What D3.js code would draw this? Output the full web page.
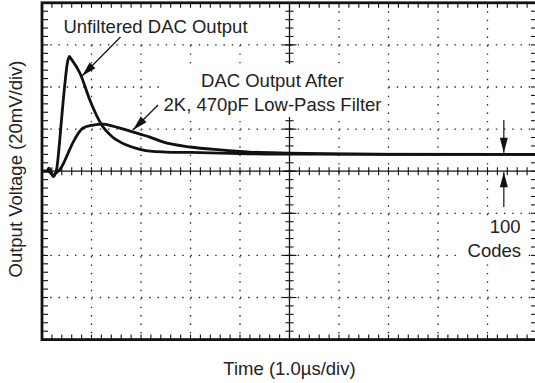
<!DOCTYPE html>
<html>
<head>
<meta charset="utf-8">
<script src="https://cdn.jsdelivr.net/npm/d3@7"></script>
<style>
  html, body { margin: 0; padding: 0; background: #fff; }
  svg { display: block; }
  text { font-family: "Liberation Sans", Arial, Helvetica, sans-serif; fill: #222; }
</style>
</head>
<body>
<svg id="chart" width="535" height="383"></svg>
<script>
// ---- data (time in µs, voltage in mV relative to centre line) ----
const unfilteredT = [0, 0.10, 0.14, 0.20, 0.23, 0.27, 0.30, 0.34, 0.40, 0.46, 0.51, 0.55, 0.60, 0.77, 0.97, 1.21, 1.43, 1.72, 1.98, 2.18, 2.5, 3.0, 3.8, 5.0, 10];
const unfilteredV = [0, 0, 1.5, -1.5, -2.6, -1.0, 1.5, 10, 26, 41, 51, 54.5, 53, 46.4, 33.6, 21.8, 16.1, 12.3, 10.4, 9.5, 9.1, 8.9, 8.5, 8.1, 8.0];
const filteredT = [0, 0.10, 0.16, 0.22, 0.30, 0.36, 0.44, 0.51, 0.63, 0.83, 1.03, 1.23, 1.43, 1.72, 1.98, 2.18, 2.44, 2.99, 3.6, 4.2, 5.0, 6.0, 7.0, 10];
const filteredV = [0, 0, -0.5, -1.9, -0.5, 0.8, 4, 7.7, 13.8, 20.5, 21.9, 22.4, 21.4, 19.5, 17.6, 16.2, 13.9, 11.5, 10.1, 9.1, 8.6, 8.2, 8.0, 8.0];
const xDivisions = d3.range(0, 11, 1);        // µs, 1.0 µs/div
const yDivisions = d3.range(-80, 81, 20);     // mV, 20 mV/div
const codesLevel = 8.0;                        // 100 codes step (mV)
const xLabel = "Time (1.0µs/div)";
const yLabel = "Output Voltage (20mV/div)";

const svg = d3.select("#chart");
const x = d3.scaleLinear().domain([0, 10]).range([42, 537]);
const y = d3.scaleLinear().domain([-80, 80]).range([339.6, 2.8]);

// dotted grid
const g = svg.append("g");
xDivisions.slice(1, -1).forEach(d => {
  if (d === 5) return;
  g.append("line").attr("x1", x(d)).attr("x2", x(d)).attr("y1", y(80)).attr("y2", y(-80))
    .attr("stroke", "#222").attr("stroke-width", 1.3).attr("stroke-dasharray", "1.4,7.04");
});
yDivisions.slice(1, -1).forEach(d => {
  if (d === 0) return;
  g.append("line").attr("y1", y(d)).attr("y2", y(d)).attr("x1", x(0)).attr("x2", x(10))
    .attr("stroke", "#222").attr("stroke-width", 1.3).attr("stroke-dasharray", "1.4,6.85");
});

// centre axes
g.append("line").attr("x1", x(0)).attr("x2", x(10)).attr("y1", y(0)).attr("y2", y(0)).attr("stroke", "#111").attr("stroke-width", 1.3);
g.append("line").attr("x1", x(5)).attr("x2", x(5)).attr("y1", y(80)).attr("y2", y(-80)).attr("stroke", "#111").attr("stroke-width", 1.3);

// minor ticks
const xMinor = d3.range(0, 10.001, 0.2);
const yMinor = d3.range(-80, 80.001, 4);
xMinor.forEach(d => {
  g.append("line").attr("x1", x(d)).attr("x2", x(d)).attr("y1", y(0) - 4).attr("y2", y(0) + 4).attr("stroke", "#111").attr("stroke-width", 1.1);
  g.append("line").attr("x1", x(d)).attr("x2", x(d)).attr("y1", y(80)).attr("y2", y(80) + 5).attr("stroke", "#111").attr("stroke-width", 1.1);
  g.append("line").attr("x1", x(d)).attr("x2", x(d)).attr("y1", y(-80)).attr("y2", y(-80) - 5).attr("stroke", "#111").attr("stroke-width", 1.1);
});
yMinor.forEach(d => {
  g.append("line").attr("y1", y(d)).attr("y2", y(d)).attr("x1", x(5) - 4).attr("x2", x(5) + 4).attr("stroke", "#111").attr("stroke-width", 1.1);
  g.append("line").attr("y1", y(d)).attr("y2", y(d)).attr("x1", x(0)).attr("x2", x(0) + 6).attr("stroke", "#111").attr("stroke-width", 1.1);
  g.append("line").attr("y1", y(d)).attr("y2", y(d)).attr("x1", x(10)).attr("x2", x(10) - 6).attr("stroke", "#111").attr("stroke-width", 1.1);
});
yDivisions.forEach(d => {
  g.append("line").attr("y1", y(d)).attr("y2", y(d)).attr("x1", x(5) - 7).attr("x2", x(5) + 7).attr("stroke", "#111").attr("stroke-width", 1.1);
});

// white knock-out boxes behind annotation text
const knock = svg.append("g");
[[56, 9, 202, 33], [160, 64, 226, 53], [462, 216, 64, 46]].forEach(b => {
  knock.append("rect").attr("x", b[0]).attr("y", b[1]).attr("width", b[2]).attr("height", b[3]).attr("fill", "#fff");
});

// frame
svg.append("rect").attr("x", x(0)).attr("y", y(80)).attr("width", x(10) - x(0)).attr("height", y(-80) - y(80))
  .attr("fill", "none").attr("stroke", "#111").attr("stroke-width", 2.8);

// curves
const line = d3.line().x(d => x(d[0])).y(d => y(d[1])).curve(d3.curveMonotoneX);
svg.append("path").datum(d3.zip(filteredT, filteredV)).attr("d", line)
  .attr("fill", "none").attr("stroke", "#111").attr("stroke-width", 2.8).attr("stroke-linejoin", "round");
svg.append("path").datum(d3.zip(unfilteredT, unfilteredV)).attr("d", line)
  .attr("fill", "none").attr("stroke", "#111").attr("stroke-width", 2.8).attr("stroke-linejoin", "round");

// arrows
function arrow(x1, y1, x2, y2) {
  svg.append("line").attr("x1", x1).attr("y1", y1).attr("x2", x2).attr("y2", y2)
    .attr("stroke", "#111").attr("stroke-width", 1.2);
  const ang = Math.atan2(y2 - y1, x2 - x1), L = 15, W = 4;
  const bx = x2 - L * Math.cos(ang), by = y2 - L * Math.sin(ang);
  const px = -Math.sin(ang) * W, py = Math.cos(ang) * W;
  svg.append("path").attr("d", `M${x2},${y2}L${bx + px},${by + py}L${bx - px},${by - py}Z`).attr("fill", "#111");
}
arrow(120.5, 37, 82, 76);
arrow(158, 105, 133, 130);
arrow(x(9.33), 120, x(9.33), y(codesLevel) - 1.5);
arrow(x(9.33), 207, x(9.33), y(0) + 1);

// text
const fs = "18.5px";
svg.append("text").attr("x", 155.5).attr("y", 33).attr("text-anchor", "middle").style("font-size", fs).text("Unfiltered DAC Output");
svg.append("text").attr("x", 272.5).attr("y", 87).attr("text-anchor", "middle").style("font-size", fs).text("DAC Output After");
svg.append("text").attr("x", 272.5).attr("y", 110.5).attr("text-anchor", "middle").style("font-size", fs).text("2K, 470pF Low-Pass Filter");
svg.append("text").attr("x", 520.5).attr("y", 232.7).attr("text-anchor", "end").style("font-size", fs).text("100");
svg.append("text").attr("x", 521).attr("y", 256.7).attr("text-anchor", "end").style("font-size", fs).text("Codes");
svg.append("text").attr("x", 289.5).attr("y", 375).attr("text-anchor", "middle").style("font-size", fs).text(xLabel);
svg.append("text").attr("transform", "translate(21.5,169) rotate(-90)").attr("text-anchor", "middle").style("font-size", fs).text(yLabel);
</script>
</body>
</html>
